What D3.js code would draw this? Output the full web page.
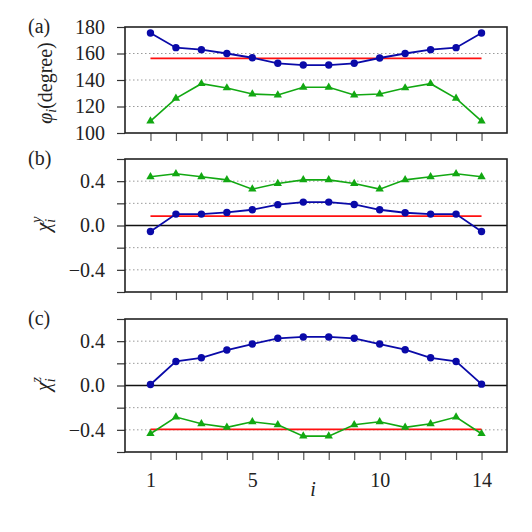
<!DOCTYPE html>
<html>
<head>
<meta charset="utf-8">
<script src="https://cdn.jsdelivr.net/npm/d3@7/dist/d3.min.js"></script>
</head>
<body style="margin:0;background:#fff">
<svg id="chart" width="532" height="532"></svg>
<script>
// site index i
var sites = d3.range(1, 15);
var xTickLabels = [1, 5, 10, 14];

// (a) angle phi_i in degree
var phiBlue  = [175.5, 164.4, 162.9, 160.0, 156.8, 152.6, 151.3, 151.3, 152.6, 156.6, 160.0, 162.9, 164.4, 175.5];
var phiGreen = [109.0, 126.2, 137.2, 134.0, 129.4, 128.7, 134.5, 134.5, 128.7, 129.4, 134.0, 137.2, 126.2, 109.0];
var phiRed = 156.3;

// (b) chi_i^y
var chiYBlue  = [-0.054, 0.103, 0.103, 0.118, 0.142, 0.188, 0.211, 0.211, 0.190, 0.142, 0.115, 0.103, 0.103, -0.054];
var chiYGreen = [0.440, 0.467, 0.440, 0.412, 0.328, 0.379, 0.412, 0.412, 0.379, 0.328, 0.412, 0.440, 0.467, 0.440];
var chiYRed = 0.085;

// (c) chi_i^z
var chiZBlue  = [0.009, 0.217, 0.250, 0.320, 0.374, 0.426, 0.438, 0.438, 0.426, 0.374, 0.323, 0.250, 0.217, 0.012];
var chiZGreen = [-0.435, -0.285, -0.345, -0.378, -0.327, -0.354, -0.457, -0.457, -0.354, -0.327, -0.378, -0.345, -0.285, -0.435];
var chiZRed = -0.396;

var blue = "#0a0aa8", green = "#12a812", red = "#ff1010";
var fontName = "Liberation Serif";

var svg = d3.select("#chart");
var x = d3.scaleLinear().domain([0, 15]).range([125, 507]);

var line = d3.line()
    .x(function(d) { return x(d.i); })
    .y(function(d) { return d.y; });

function panel(opt) {
  var y = d3.scaleLinear().domain(opt.domain).range([opt.bottom, opt.top]);
  var g = svg.append("g");

  // grid lines
  g.selectAll(".grid")
    .data(opt.grid)
    .enter().append("line")
      .attr("x1", x(0)).attr("x2", x(15))
      .attr("y1", function(d) { return y(d); })
      .attr("y2", function(d) { return y(d); })
      .attr("stroke", "#9a9a9a")
      .attr("stroke-width", 1)
      .attr("stroke-dasharray", "1.5,2.5");

  if (opt.zero) {
    g.append("line")
      .attr("x1", x(0)).attr("x2", x(15))
      .attr("y1", y(0)).attr("y2", y(0))
      .attr("stroke", "#111").attr("stroke-width", 1.3);
  }

  // y axis
  var yAxis = d3.axisLeft(y)
      .tickValues(opt.ticks)
      .tickSize(8).tickPadding(12)
      .tickFormat(opt.format);
  var ya = g.append("g").attr("transform", "translate(" + x(0) + ",0)").call(yAxis)
      .attr("font-family", fontName).attr("font-size", 20);
  ya.select(".domain").remove();
  ya.selectAll(".tick line").attr("stroke", "#333").attr("stroke-width", 1.2);
  ya.selectAll(".tick text").attr("fill", "#222");

  // x axis
  var xAxis = d3.axisBottom(x)
      .tickValues(sites)
      .tickSize(8).tickPadding(13)
      .tickFormat(function(d) { return opt.xLabels && xTickLabels.indexOf(d) >= 0 ? d : ""; });
  var xa = g.append("g").attr("transform", "translate(0," + opt.bottom + ")").call(xAxis)
      .attr("font-family", fontName).attr("font-size", 20);
  xa.select(".domain").remove();
  xa.selectAll(".tick line").attr("stroke", "#555").attr("stroke-width", 1.2);
  xa.selectAll(".tick text").attr("fill", "#222");

  // red reference line
  g.append("line")
    .attr("x1", x(1)).attr("x2", x(14))
    .attr("y1", y(opt.red)).attr("y2", y(opt.red))
    .attr("stroke", red).attr("stroke-width", 1.6);

  var gPts = sites.map(function(s, k) { return {i: s, y: y(opt.green[k])}; });
  var bPts = sites.map(function(s, k) { return {i: s, y: y(opt.blue[k])}; });

  g.append("path").datum(gPts).attr("d", line)
    .attr("fill", "none").attr("stroke", green).attr("stroke-width", 1.6);
  g.selectAll(".tri").data(gPts).enter().append("path")
    .attr("d", d3.symbol(d3.symbolTriangle).size(30))
    .attr("transform", function(d) { return "translate(" + x(d.i) + "," + d.y + ")"; })
    .attr("fill", green);

  g.append("path").datum(bPts).attr("d", line)
    .attr("fill", "none").attr("stroke", blue).attr("stroke-width", 1.8);
  g.selectAll(".dot").data(bPts).enter().append("circle")
    .attr("cx", function(d) { return x(d.i); })
    .attr("cy", function(d) { return d.y; })
    .attr("r", 3.7)
    .attr("fill", blue);

  // frame
  g.append("rect")
    .attr("x", x(0)).attr("y", opt.top)
    .attr("width", x(15) - x(0)).attr("height", opt.bottom - opt.top)
    .attr("fill", "none").attr("stroke", "#222").attr("stroke-width", 1.6);

  // panel tag
  g.append("text").attr("x", 28).attr("y", opt.top + 6)
    .attr("font-family", fontName).attr("font-size", 20).attr("fill", "#222").text(opt.tag);

  return {g: g, y: y};
}

var fmt = function(d) {
  if (Math.abs(Math.abs(d) - 0.4) < 1e-6 || Math.abs(d) < 1e-6) {
    return (d < 0 ? "\u2212" : "") + Math.abs(d).toFixed(1);
  }
  return "";
};
var chiTicks = [-0.6, -0.4, -0.2, 0, 0.2, 0.4, 0.6];

panel({tag: "(a)", top: 27, bottom: 133, domain: [100, 180],
  ticks: [100, 120, 140, 160, 180], grid: [120, 140, 160], format: d3.format("d"),
  blue: phiBlue, green: phiGreen, red: phiRed});

panel({tag: "(b)", top: 159, bottom: 292, domain: [-0.6, 0.6],
  ticks: chiTicks, grid: [-0.4, -0.2, 0.2, 0.4], format: fmt, zero: true,
  blue: chiYBlue, green: chiYGreen, red: chiYRed});

panel({tag: "(c)", top: 319, bottom: 452, domain: [-0.6, 0.6],
  ticks: chiTicks, grid: [-0.4, -0.2, 0.2, 0.4], format: fmt, zero: true, xLabels: true,
  blue: chiZBlue, green: chiZGreen, red: chiZRed});

// y labels
var la = svg.append("text")
  .attr("transform", "translate(52,83) rotate(-90)")
  .attr("text-anchor", "middle").attr("font-family", fontName).attr("font-size", 20).attr("fill", "#222");
la.append("tspan").attr("font-style", "italic").text("\u03C6");
la.append("tspan").attr("dy", 4).attr("font-size", 14).attr("font-style", "italic").text("i");
la.append("tspan").attr("dy", -4).text("(degree)");

function chiLabel(cy, sup) {
  var t = svg.append("text")
    .attr("transform", "translate(50," + cy + ") rotate(-90)")
    .attr("text-anchor", "middle").attr("font-family", fontName).attr("font-size", 20).attr("fill", "#222");
  t.append("tspan").attr("font-style", "italic").text("\u03C7");
  t.append("tspan").attr("dy", 5).attr("font-size", 14).attr("font-style", "italic").text("i");
  t.append("tspan").attr("dx", -4).attr("dy", -14).attr("font-size", 14).attr("font-style", "italic").text(sup);
}
chiLabel(224, "y");
chiLabel(384, "z");

// x label
svg.append("text").attr("x", 313).attr("y", 496)
  .attr("text-anchor", "middle").attr("font-family", fontName).attr("font-size", 20)
  .attr("font-style", "italic").attr("fill", "#222").text("i");
</script>
</body>
</html>
